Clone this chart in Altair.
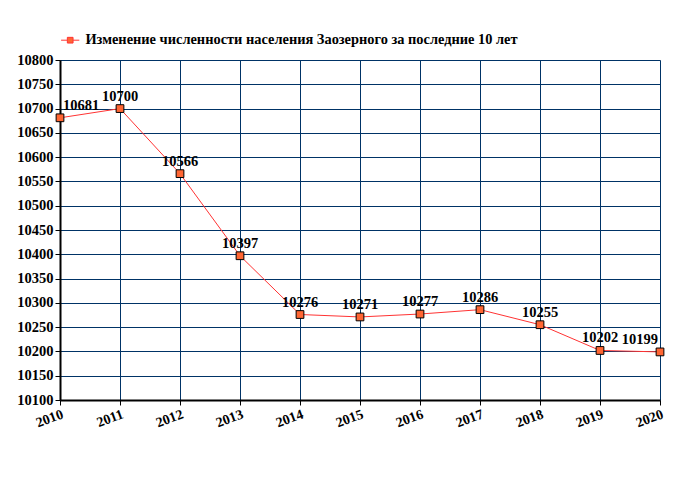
import altair as alt
import pandas as pd

years = ["2010", "2011", "2012", "2013", "2014", "2015", "2016", "2017", "2018", "2019", "2020"]
population = [10681, 10700, 10566, 10397, 10276, 10271, 10277, 10286, 10255, 10202, 10199]
series_name = "Изменение численности населения Заозерного за последние 10 лет"

df = pd.DataFrame({"year": years, "value": population, "series": series_name})
df["idx"] = range(len(df))

FONT = "Liberation Serif"
GRID = "#003366"

x = alt.X("year:O", scale=alt.Scale(type="point", padding=0),
          axis=alt.Axis(title=None, labelAngle=-20, labelAlign="right", labelBaseline="top",
                        labelFont=FONT, labelFontSize=14, labelFontWeight="bold", labelColor="black",
                        domainColor="black", domainWidth=2, tickColor="black", tickSize=5,
                        grid=True, gridColor=GRID, gridWidth=1, gridOpacity=1, labelPadding=2))
y = alt.Y("value:Q", scale=alt.Scale(domain=[10100, 10800], nice=False, zero=False),
          axis=alt.Axis(title=None, values=list(range(10100, 10801, 50)), format="d",
                        labelFont=FONT, labelFontSize=14.5, labelFontWeight="bold", labelColor="black",
                        domainColor="black", domainWidth=2, tickColor="black", tickSize=5,
                        grid=True, gridColor=GRID, gridWidth=1, gridOpacity=1, labelPadding=2))

color = alt.Color("series:N", scale=alt.Scale(range=["#FF6633"]),
                  legend=alt.Legend(title=None, orient="none", legendX=3, legendY=-27,
                                    symbolType="M-1.6,0H-0.5M0.5,0H1.6M-0.5,-0.5H0.5V0.5H-0.5Z",
                                    symbolSize=130, symbolStrokeColor="#FF3333", symbolStrokeWidth=1,
                                    labelFont=FONT, labelFontSize=14.4, labelFontWeight="bold",
                                    labelColor="black", labelLimit=640, labelOffset=8,
                                    symbolFillColor="#FF6633"))

line = alt.Chart(df).mark_line(color="#FF3333", strokeWidth=1).encode(x=x, y=y)
points = alt.Chart(df).mark_point(shape="square", size=60, filled=True, fill="#FF6633",
                                  stroke="black", strokeWidth=1, opacity=1).encode(x=x, y=y, color=color)

text_style = dict(font=FONT, fontSize=14.5, fontWeight="bold", color="black", dy=-12)
labels_mid = alt.Chart(df).transform_filter("datum.idx > 0 && datum.idx < 10").mark_text(
    align="center", **text_style).encode(x=x, y=y, text="value:Q")
labels_first = alt.Chart(df).transform_filter("datum.idx == 0").mark_text(
    align="left", dx=3, **text_style).encode(x=x, y=y, text="value:Q")
labels_last = alt.Chart(df).transform_filter("datum.idx == 10").mark_text(
    align="right", dx=-2, **text_style).encode(x=x, y=y, text="value:Q")

chart = alt.layer(line, points, labels_mid, labels_first, labels_last).properties(
    width=600, height=340,
    autosize=alt.AutoSizeParams(type="none"),
    padding={"left": 60, "top": 60, "right": 20, "bottom": 100},
).configure_view(stroke=None).configure(background="white")

chart.save("out.html", embed_options={"renderer": "svg", "actions": False})
